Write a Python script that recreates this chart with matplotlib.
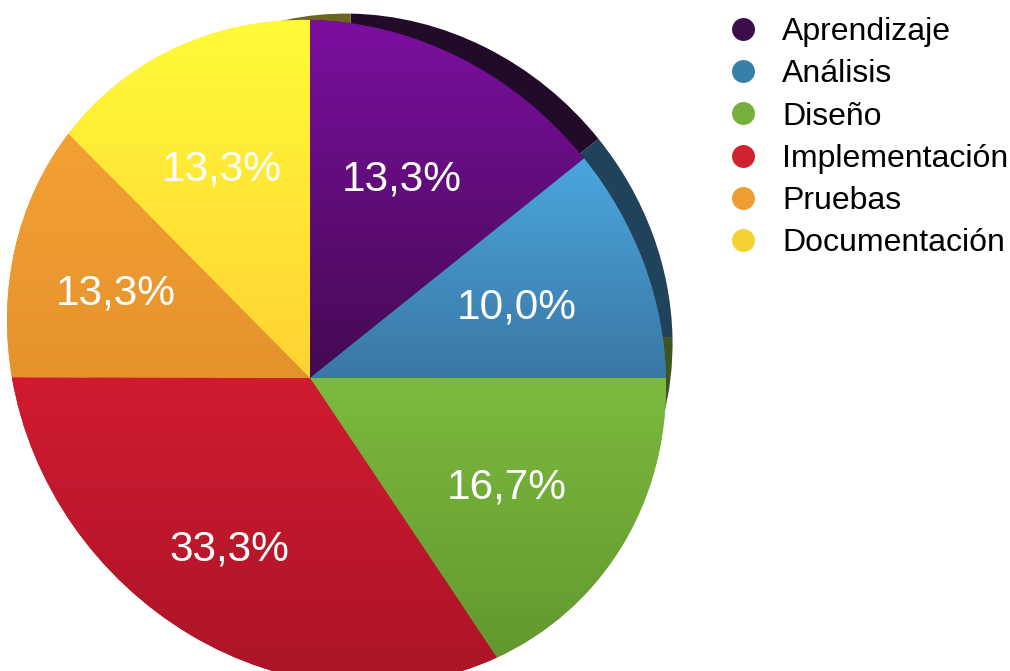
import numpy as np
import matplotlib
matplotlib.use("Agg")
import matplotlib.pyplot as plt
import matplotlib.transforms as mtransforms
from matplotlib.lines import Line2D
from matplotlib.colors import to_rgb

# ---- data -------------------------------------------------------------
categories = ["Aprendizaje", "Análisis", "Diseño", "Implementación",
              "Pruebas", "Documentación"]
shares = [13.3, 10.0, 16.7, 33.3, 13.3, 13.3]

# ---- styling ----------------------------------------------------------
legend_colors = ["#3D0C4A", "#3781A8", "#77AF3C", "#D1232F", "#EE9E30", "#F2D332"]
face_top = ["#7C0FA0", "#4BA6DE", "#7CBA3E", "#D01B30", "#F3A134", "#FFFB38"]
face_bottom = ["#440A52", "#3977A4", "#62982F", "#AB1428", "#E5922D", "#FFD233"]
side_colors = ["#220A29", "#20425A", "#3C561D", "#5A0D16", "#6E4A16", "#6E6420"]

W, H = 1010, 671
plt.rcParams["font.family"] = ["Liberation Sans", "DejaVu Sans"]


class PerspectiveView(mtransforms.Transform):
    """Projective (homography) mapping from the unit pie disk to pixels."""
    input_dims = output_dims = 2
    is_separable = False
    has_inverse = False

    def __init__(self, matrix):
        super().__init__()
        self._m = np.asarray(matrix, float)

    def transform_non_affine(self, values):
        v = np.asarray(values, float).reshape(-1, 2)
        h = v @ self._m[:, :2].T + self._m[:, 2]
        return h[:, :2] / h[:, 2:3]


def tilted_disk(hub=(310.0, 378.0), sx=326.2, sy=327.6, shear=-0.105,
                gx=-0.0802, gy=-0.085):
    cx, cy = hub
    return np.array([
        [sx + cx * gx, cx * gy, cx],
        [cy * gx - shear * sy, cy * gy - sy, cy],
        [gx, gy, 1.0],
    ])


HUB = (310.0, 378.0)
front_m = tilted_disk(hub=HUB)
# far face of the disk: shrunk toward the hub and pushed up/right
s, dx, dy = 0.904, 40.7, -40.7
shift = np.array([[s, 0, (1 - s) * HUB[0] + dx],
                  [0, s, (1 - s) * HUB[1] + dy],
                  [0, 0, 1.0]])
back_m = shift @ front_m

front_view = PerspectiveView(front_m)
back_view = PerspectiveView(back_m)

fig = plt.figure(figsize=(W / 100, H / 100), dpi=100)
ax = fig.add_axes([0, 0, 1, 1])

# side / far face of the disk
back_wedges = ax.pie(shares, colors=side_colors, startangle=90,
                     counterclock=False, radius=1,
                     wedgeprops=dict(linewidth=0))[0]
for w in back_wedges:
    w.set_transform(back_view + ax.transData)
    w.set_zorder(1)

# front face
wedges, _, autotexts = ax.pie(
    shares, colors=legend_colors, startangle=90, counterclock=False,
    radius=1, pctdistance=0.645,
    autopct=lambda p: f"{p:.1f}%".replace(".", ","),
    wedgeprops=dict(linewidth=0),
    textprops=dict(color="white", fontsize=30.5))

grad = np.linspace(0.0, 1.0, 256)[:, None, None]
for w, top, bot in zip(wedges, face_top, face_bottom):
    w.set_transform(front_view + ax.transData)
    w.set_zorder(2)
    ext = front_view.transform_path(w.get_path()).get_extents()
    img = (1 - grad) * np.array(to_rgb(top)) + grad * np.array(to_rgb(bot))
    im = ax.imshow(img, extent=(ext.x0, ext.x1, ext.y1, ext.y0),
                   aspect="auto", interpolation="bilinear", zorder=3)
    im.set_clip_path(w)

for t in autotexts:
    t.set_transform(front_view + ax.transData)
    t.set_zorder(5)

ax.set_aspect("auto")
ax.set_xlim(0, W)
ax.set_ylim(H, 0)
ax.axis("off")

handles = [Line2D([], [], ls="none", marker="o", markersize=16.5,
                  markerfacecolor=c, markeredgewidth=0) for c in legend_colors]
fig.legend(handles, categories, loc="upper left",
           bbox_to_anchor=(727.0 / W, 1 - 17.0 / H), frameon=False,
           fontsize=23, handlelength=1.0, handletextpad=0.72,
           labelspacing=0.385, borderpad=0, borderaxespad=0)

fig.savefig("out.png", dpi=100)
